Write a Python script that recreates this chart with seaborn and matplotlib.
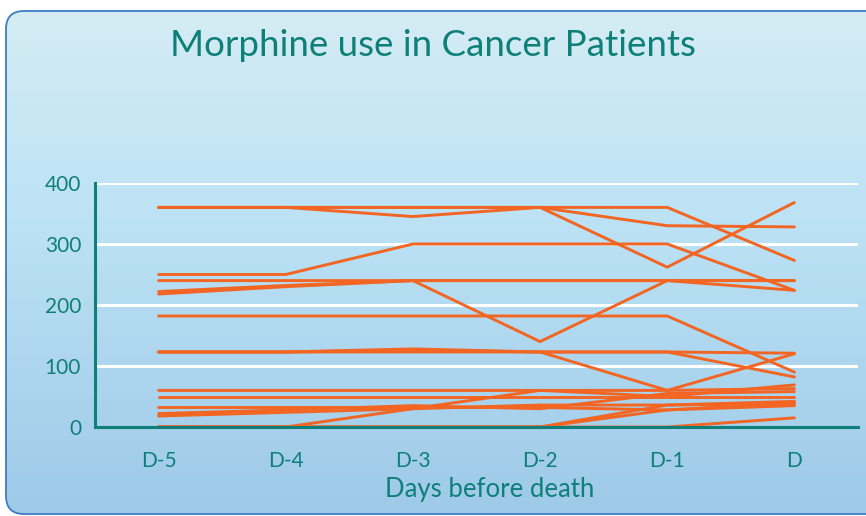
import numpy as np
import pandas as pd
import matplotlib
matplotlib.use("Agg")
import matplotlib.pyplot as plt
from matplotlib.patches import FancyBboxPatch
import seaborn as sns

days = ["D-5", "D-4", "D-3", "D-2", "D-1", "D"]

# morphine dose per patient (mg) on each day before death
p01 = [360, 360, 360, 360, 360, 273]
p02 = [360, 360, 345, 360, 330, 328]
p03 = [360, 360, 360, 360, 262, 368]
p04 = [250, 250, 300, 300, 300, 224]
p05 = [240, 240, 240, 140, 240, 224]
p06 = [218, 230, 240, 240, 240, 240]
p07 = [222, 232, 240, 240, 240, 240]
p08 = [182, 182, 182, 182, 182, 90]
p09 = [123, 123, 123, 123, 123, 82]
p10 = [123, 123, 128, 123, 60, 120]
p11 = [123, 123, 126, 123, 123, 121]
p12 = [60, 60, 60, 60, 60, 63]
p13 = [50, 50, 50, 50, 50, 50]
p14 = [32, 32, 32, 32, 28, 40]
p15 = [18, 24, 30, 36, 36, 42]
p16 = [22, 28, 35, 30, 55, 58]
p17 = [0, 0, 30, 60, 50, 69]
p18 = [0, 0, 0, 0, 36, 38]
p19 = [0, 0, 0, 0, 28, 35]
p20 = [0, 0, 0, 0, 0, 15]

patients = [p01, p02, p03, p04, p05, p06, p07, p08, p09, p10,
            p11, p12, p13, p14, p15, p16, p17, p18, p19, p20]

rows = []
for i, vals in enumerate(patients):
    for d, v in zip(days, vals):
        rows.append({"patient": i, "day": d, "dose": v})
df = pd.DataFrame(rows)

teal = "#0f7f7a"
orange = "#f26522"

sns.set_style("white")
plt.rcParams["font.family"] = ["Lato", "DejaVu Sans"]

fig = plt.figure(figsize=(8.66, 5.16), dpi=100)
fig.patch.set_facecolor("white")

# background panel with gradient
W, H = 866, 516
bg = fig.add_axes([0, 0, 1, 1], zorder=0)
bg.set_xlim(0, W)
bg.set_ylim(H, 0)
bg.axis("off")
grad = np.linspace(0, 1, 256)[:, None]
top = np.array([0.835, 0.925, 0.953])
mid = np.array([0.74, 0.89, 0.96])
bot = np.array([0.62, 0.79, 0.91])
cols = np.where(grad[..., None] < 0.4,
                top + (mid - top) * (grad[..., None] / 0.4),
                mid + (bot - mid) * ((grad[..., None] - 0.4) / 0.6))
img = np.repeat(cols, 2, axis=1)
box = FancyBboxPatch((6, 11), W + 20, 503, boxstyle="round,pad=0,rounding_size=18",
                     facecolor="none", edgecolor="#3b7dc4", linewidth=1.3)
bg.add_patch(box)
im = bg.imshow(img, extent=[6, W + 20, 514, 11], aspect="auto", zorder=0)
im.set_clip_path(box)

ax = fig.add_axes([95 / W, 1 - 427 / H, (858 - 95) / W, (427 - 183) / H], zorder=1)
ax.patch.set_alpha(0)

sns.lineplot(data=df, x="day", y="dose", units="patient", estimator=None,
             color=orange, linewidth=2.1, ax=ax, sort=False)

ax.set_xlim(-0.5, 5.5)
ax.set_ylim(0, 400)
ax.set_yticks([0, 100, 200, 300, 400])
ax.set_xticks(np.arange(-0.5, 6, 1.0))
ax.set_xticklabels([])
ax.set_xticks(range(6), minor=True)
ax.set_xticklabels(days, minor=True)
ax.tick_params(axis="x", which="minor", length=0, pad=17, labelsize=15, labelcolor=teal)
ax.tick_params(axis="x", which="major", length=7, width=2, color=teal, direction="out")
ax.tick_params(axis="y", length=7, width=2, color=teal, labelsize=15, labelcolor=teal, pad=3)

for y in [100, 200, 300, 400]:
    ax.axhline(y, color="white", linewidth=2.2, zorder=0)

for s in ["top", "right"]:
    ax.spines[s].set_visible(False)
for s in ["left", "bottom"]:
    ax.spines[s].set_color(teal)
    ax.spines[s].set_linewidth(2.2)

ax.set_xlabel("Days before death", fontsize=18.5, color=teal)
ax.xaxis.set_label_coords((490 - 95) / (858 - 95), -(490 - 427) / (427 - 183))
ax.xaxis.label.set_va("center")
ax.set_ylabel("")

fig.text(0.5, 1 - 46 / H, "Morphine use in Cancer Patients", ha="center", va="center",
         fontsize=26.5, color=teal)

fig.savefig("out.png", dpi=100)
